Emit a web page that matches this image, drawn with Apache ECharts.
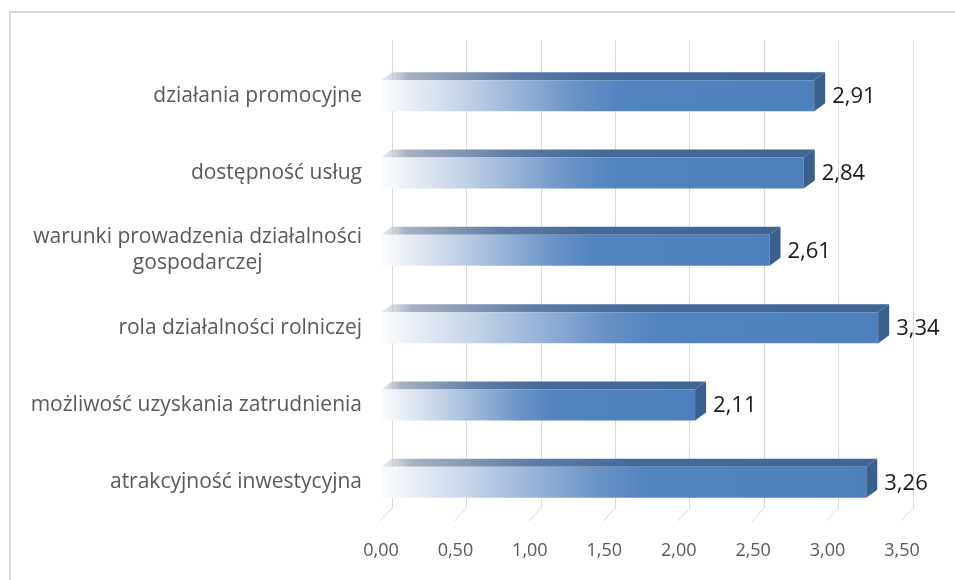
<!DOCTYPE html>
<html>
<head>
<meta charset="utf-8">
<script src="https://cdn.jsdelivr.net/npm/echarts@6/dist/echarts.min.js"></script>
<style>html,body{margin:0;padding:0;background:#fff}#c{width:955px;height:580px}</style>
</head>
<body>
<div id="c"></div>
<script>
var categories = ['działania promocyjne', 'dostępność usług', 'warunki prowadzenia działalności\ngospodarczej', 'rola działalności rolniczej', 'możliwość uzyskania zatrudnienia', 'atrakcyjność inwestycyjna'];
var values = [2.91, 2.84, 2.61, 3.34, 2.11, 3.26];
var tickValues = [0, 0.5, 1, 1.5, 2, 2.5, 3, 3.5];

var FONT = '"Open Sans", "Noto Sans", sans-serif';
var DX = 11, DY = 8;
function fmt(v) { return v.toFixed(2).replace('.', ','); }

var chart = echarts.init(document.getElementById('c'), null, {renderer: 'canvas'});
chart.setOption({
  animation: false,
  backgroundColor: '#ffffff',
  graphic: [{
    type: 'rect', shape: {x: 10, y: 12, width: 1000, height: 620},
    style: {fill: 'none', stroke: '#d9d9d9', lineWidth: 2}, z: 0
  }],
  grid: [
    {left: 381, right: 53, top: 57, bottom: 59},
    {left: 392, right: 42, top: 40, bottom: 72}
  ],
  xAxis: [
    {gridIndex: 0, type: 'value', min: 0, max: 3.5, interval: 0.5,
     axisLine: {show: false}, axisTick: {show: false}, splitLine: {show: false},
     axisLabel: {margin: 21, fontSize: 18, color: '#595959', fontFamily: FONT, formatter: fmt}},
    {gridIndex: 1, type: 'value', min: 0, max: 3.5, interval: 0.5,
     axisLine: {show: false}, axisTick: {show: false}, axisLabel: {show: false},
     splitLine: {show: true, lineStyle: {color: '#d9d9d9', width: 1}}}
  ],
  yAxis: [
    {gridIndex: 0, type: 'category', data: categories, inverse: true,
     axisLine: {show: false}, axisTick: {show: false},
     axisLabel: {margin: 19, color: '#595959', fontFamily: FONT, fontSize: 21,
       formatter: function (v) { return v.split('\n').map(function (l) { return '{c|' + l + '}'; }).join('\n'); },
       rich: {c: {align: 'center', fontSize: 21, color: '#595959', fontFamily: FONT, lineHeight: 26}}}},
    {gridIndex: 1, type: 'value', min: 0, max: 1, show: false}
  ],
  series: [
    {
      type: 'custom', xAxisIndex: 1, yAxisIndex: 1, z: 1,
      data: tickValues.map(function (v) { return [v, 0]; }),
      renderItem: function (params, api) {
        var p = api.coord([api.value(0), 0]);
        return {type: 'line', shape: {x1: p[0], y1: p[1], x2: p[0] - 12, y2: p[1] + 13},
                style: {stroke: '#d9d9d9', lineWidth: 1}};
      }
    },
    {
      type: 'custom', xAxisIndex: 0, yAxisIndex: 0, z: 5,
      data: values.map(function (v, i) { return [v, i]; }),
      renderItem: function (params, api) {
        var v = api.value(0), c = api.value(1);
        var p0 = api.coord([0, c]), p1 = api.coord([v, c]);
        var h = api.size([0, 1])[1] * 0.4;
        var x0 = p0[0], x1 = p1[0], yc = p1[1];
        var yt = yc - h / 2, yb = yc + h / 2;
        return {type: 'group', children: [
          {type: 'polygon', shape: {points: [[x0, yt], [x1, yt], [x1 + DX, yt - DY], [x0 + DX, yt - DY]]},
           style: {fill: new echarts.graphic.LinearGradient(0, 0, 1, 0, [
             {offset: 0, color: 'rgba(210,215,225,0.5)'},
             {offset: 0.06, color: '#a7b1c1'},
             {offset: 0.3, color: '#5e7ca6'},
             {offset: 0.5, color: '#456a99'},
             {offset: 1, color: '#3f6594'}])}},
          {type: 'rect', shape: {x: x0, y: yt, width: x1 - x0, height: h},
           style: {fill: new echarts.graphic.LinearGradient(0, 0, 1, 0, [
             {offset: 0, color: '#fbfcfe'},
             {offset: 0.05, color: '#eef2f8'},
             {offset: 0.18, color: '#c7d5e9'},
             {offset: 0.32, color: '#96b2d7'},
             {offset: 0.44, color: '#6b94c7'},
             {offset: 0.55, color: '#5284c0'},
             {offset: 1, color: '#4e80bd'}])}},
          {type: 'polygon', shape: {points: [[x1, yt], [x1 + DX, yt - DY], [x1 + DX, yb - DY], [x1, yb]]},
           style: {fill: '#3a5f8f'}},
          {type: 'text', x: x1 + DX + 7, y: yc + 1,
           style: {text: fmt(v), fill: '#1a1a1a', fontSize: 22, fontFamily: FONT,
                   align: 'left', verticalAlign: 'middle'}}
        ]};
      }
    }
  ]
});
</script>
</body>
</html>
